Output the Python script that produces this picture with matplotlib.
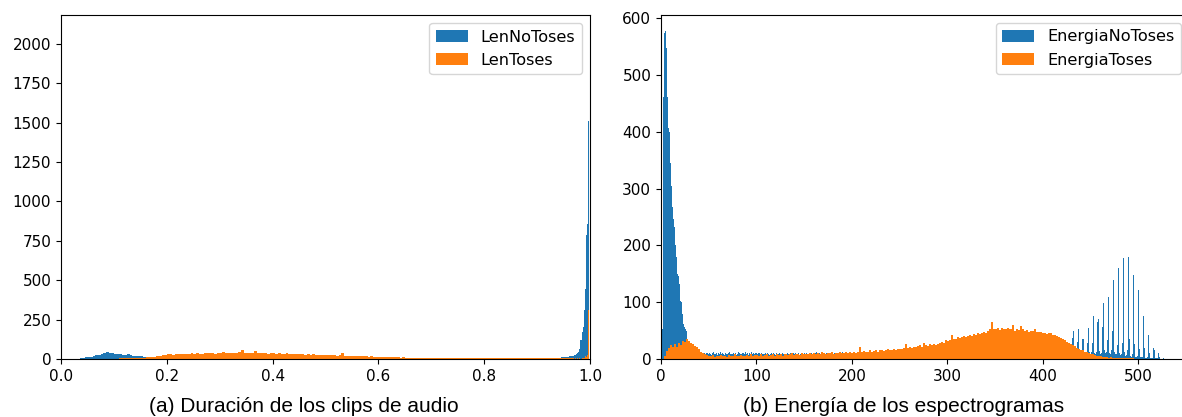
import numpy as np
import matplotlib
matplotlib.use("Agg")
import matplotlib.pyplot as plt

# ---------------------------------------------------------------------------
# (a) Clip length histogram: 0.005-wide bins on [0, 0.97], 0.002-wide bins
#     on [0.97, 0.998]
# ---------------------------------------------------------------------------
len_coarse_edges = np.linspace(0.0, 0.97, 195)
len_fine_edges = np.linspace(0.97, 0.998, 15)[1:]

len_notoses = [
    0, 0, 0, 0, 2, 3, 3, 5, 8, 10,
    13, 15, 20, 24, 27, 33, 38, 42, 36, 40,
    33, 30, 34, 28, 27, 30, 24, 22, 20, 18,
    20, 15, 14, 12, 10, 9, 8, 8, 7, 7,
    6, 7, 5, 6, 7, 6, 5, 7, 6, 6,
    5, 6, 7, 5, 6, 6, 5, 7, 6, 5,
    6, 5, 6, 7, 5, 6, 5, 6, 5, 6,
    5, 6, 5, 5, 6, 5, 6, 5, 5, 6,
    5, 5, 6, 4, 5, 6, 5, 5, 4, 5,
    5, 4, 5, 6, 5, 4, 5, 5, 4, 6,
    4, 5, 5, 4, 5, 4, 6, 5, 4, 5,
    5, 4, 5, 4, 4, 5, 4, 5, 4, 4,
    5, 4, 5, 5, 4, 5, 6, 4, 5, 4,
    5, 6, 4, 5, 4, 5, 6, 4, 5, 5,
    4, 5, 6, 5, 4, 5, 5, 4, 6, 5,
    5, 4, 5, 5, 6, 4, 5, 5, 4, 5,
    6, 5, 4, 5, 5, 6, 4, 5, 5, 6,
    5, 4, 6, 5, 5, 4, 6, 5, 5, 6,
    5, 6, 5, 6, 5, 6, 5, 6, 8, 10,
    12, 15, 18, 22,
    # fine bins
    25, 28, 30, 35, 42, 66, 118, 171, 203, 309, 447, 785, 860, 1511,
]

len_toses = [
    0, 0, 0, 0, 0, 0, 0, 0, 0, 0,
    0, 0, 0, 0, 1, 1, 2, 2, 2, 3,
    3, 3, 4, 4, 5, 5, 5, 6, 6, 7,
    8, 8, 10, 11, 13, 15, 18, 22, 26, 28,
    29, 31, 28, 33, 30, 32, 34, 31, 33, 35,
    32, 36, 34, 33, 37, 35, 38, 36, 34, 39,
    36, 46, 35, 38, 37, 40, 36, 44, 60, 35,
    41, 37, 38, 48, 38, 36, 40, 37, 34, 38,
    35, 33, 36, 34, 32, 35, 31, 33, 30, 32,
    29, 31, 28, 30, 27, 29, 26, 28, 25, 27,
    24, 26, 23, 25, 22, 24, 38, 22, 20, 21,
    19, 18, 20, 17, 16, 17, 15, 16, 14, 15,
    13, 14, 12, 13, 11, 12, 10, 11, 9, 10,
    9, 8, 9, 8, 7, 8, 7, 8, 6, 7,
    6, 7, 6, 5, 6, 5, 6, 5, 5, 6,
    5, 5, 6, 5, 5, 6, 5, 5, 6, 5,
    5, 6, 5, 5, 6, 5, 4, 5, 5, 4,
    5, 4, 5, 5, 4, 5, 4, 4, 5, 4,
    4, 5, 4, 4, 5, 4, 4, 5, 4, 5,
    4, 4, 5, 4,
    # fine bins
    3, 4, 3, 4, 3, 4, 3, 4, 5, 6, 17, 15, 23, 309,
]

# ---------------------------------------------------------------------------
# (b) Spectrogram energy histogram
# ---------------------------------------------------------------------------
energy_start = 1.0
energy_bin_notoses = 1.052   # 500 bins
energy_bin_toses = 2.104     # 250 bins

energia_notoses_peak = [
    53, 462, 574, 577, 548, 462, 406, 400, 345, 305, 268, 247, 232, 200, 180,
    150, 147, 132, 103, 100, 80, 62, 56, 52, 50,
    30, 26, 22, 20, 18, 16, 15, 14, 13, 12, 11, 10, 10, 9, 9, 9, 8, 10, 9, 11,
]
energia_notoses_low = [
    10, 8, 11, 9, 7, 10, 12, 8, 9, 11, 7, 10, 9, 12, 8, 10, 9, 7, 11, 9, 8, 10, 12, 9, 8,
    9, 11, 8, 10, 7, 9, 12, 10, 8, 9, 11, 10, 8, 12, 9, 10, 7, 11, 9, 13, 8, 10, 9, 11, 10,
    8, 10, 11, 9, 10, 8, 9, 8, 11, 9, 10, 8, 7, 9, 10, 8, 11, 9, 7, 10, 8, 9, 11, 8, 9,
    10, 8, 9, 7, 11, 9, 8, 10, 9, 7, 11, 8, 10, 9, 8, 11, 7, 9, 10, 8, 9, 11, 8, 10, 9,
    8, 10, 9, 11, 7, 9, 8, 10, 12, 9, 8, 10, 9, 11, 8, 9, 10, 8, 11, 9, 7, 10, 9, 8, 11,
    9, 10, 8, 9, 11, 7, 10, 9, 8, 12, 9, 10, 8, 11, 9, 7, 10, 9, 11, 8, 9, 10, 8, 9, 7,
]
energia_notoses_mid = [
    8, 7, 9, 6, 8, 9, 7, 8, 6, 9, 8, 7, 9, 8, 6, 7, 9, 8, 7, 8, 9, 6, 8, 7, 9,
    7, 8, 9, 6, 8, 7, 9, 8, 7, 6, 8, 9, 7, 8, 9, 7, 6, 8, 9, 7, 8, 6, 9, 8, 7,
    9, 8, 7, 9, 6, 8, 7, 8, 9, 7, 8, 6, 9, 7, 8, 9, 8, 7, 6, 9, 8, 7, 9, 8, 7,
    8, 9, 7, 8, 6, 9, 8, 7, 9, 8, 7, 8, 9, 6, 8, 7, 9, 8, 7, 9, 8, 6, 7, 9, 8,
    7, 9, 8, 7, 8, 9, 6, 8, 9, 7, 8, 7, 9, 8, 6, 9, 8, 7, 8, 9, 7, 8, 9, 6, 8,
    9, 7, 8, 9, 7, 8, 6, 9, 8, 7, 9, 8, 7, 8, 9, 7, 6, 8, 9, 8, 7, 9, 8, 7, 9,
    8, 7, 9, 8, 6, 9, 7, 8, 9, 8, 7, 9, 8, 7, 9, 8, 9, 7, 8, 6, 9, 8, 7, 9, 8,
    7, 9, 8, 6, 8, 9, 7, 8, 9, 8,
    9, 10, 8, 14, 22, 9, 10, 11, 15, 25, 10, 9, 12, 18, 27, 11, 10, 12, 20, 25,
    9, 11, 10, 21, 24, 10, 12,
]
energia_notoses_comb = [
    12,
    37, 49, 10, 8, 10,
    30, 52, 12, 9, 11,
    36, 36, 8, 10, 9,
    29, 55, 12, 7, 13,
    29, 75, 10, 8, 12,
    66, 71, 14, 9, 10,
    57, 99, 15, 11, 12,
    34, 110, 10, 9, 15,
    50, 140, 12, 8, 9,
    24, 161, 10, 7, 8,
    29, 177, 12, 6, 7,
    16, 180, 36, 5, 4,
    8, 148, 27, 4, 3,
    5, 121, 17, 3, 3,
    4, 75, 19, 2, 2,
    3, 43, 10, 2, 1,
    2, 20, 15, 1, 1,
    1, 11, 3, 0, 0,
    0, 1,
]
energia_notoses = (energia_notoses_peak + energia_notoses_low
                   + energia_notoses_mid + energia_notoses_comb)

energia_toses = [
    0, 5, 14, 20, 24, 21, 27, 22, 28, 25, 31, 30, 35, 31, 28, 27, 23, 21, 17, 13, 11, 8, 7,
    6, 5, 7, 4, 6, 5, 7, 5, 6, 4, 7, 6, 5, 8, 6, 5, 7, 6, 5, 7, 6, 8, 5, 7,
    7, 6, 8, 6, 7, 9, 6, 7, 8, 6, 9, 7, 8, 6, 9, 7, 8, 10, 7, 8, 9, 7, 10, 8,
    9, 8, 10, 9, 11, 8, 10, 9, 12, 10, 9, 11, 10, 12, 9, 11, 10, 13, 11, 10, 12, 11, 13, 10,
    12, 11, 13, 22, 12, 14, 13, 12, 15, 13, 14, 16, 13, 15,
    15, 14, 16, 17, 15, 16, 18, 16, 17,
    18, 17, 20, 27, 19, 21, 20, 22, 21, 23,
    24, 22, 29, 25, 23, 26, 25, 27, 24, 26,
    28, 30, 29, 33, 32,
    34, 42, 35, 36, 38, 37, 39, 40, 38,
    41, 43, 40, 44, 42, 45, 44,
    46, 48, 45, 50, 52, 66, 53,
    52, 54, 51, 55, 53, 52, 54,
    52, 59, 50, 53, 51, 58, 52, 50,
    51, 48, 50, 49, 52, 47, 48,
    47, 45, 46, 44, 46, 45, 43,
    42, 41, 39, 37, 36,
    33, 30, 28, 27, 25,
    23, 20, 18, 16, 15,
    13, 12, 10, 9, 8,
    7, 6, 5, 5, 4,
    3, 3, 2, 3, 2, 2,
    2, 1, 2, 1, 1, 2, 1, 1, 1, 0,
    0, 0, 0, 0, 0, 0, 0, 0, 0, 0, 0, 0, 0, 0,
]

len_labels = ["LenNoToses", "LenToses"]
energia_labels = ["EnergiaNoToses", "EnergiaToses"]
captions = ["(a) Duración de los clips de audio", "(b) Energía de los espectrogramas"]

blue, orange = "#1f77b4", "#ff7f0e"

len_edges = np.concatenate([len_coarse_edges, len_fine_edges])
assert len(len_notoses) == len(len_toses) == len(len_edges) - 1
assert len(energia_notoses) == 500 and len(energia_toses) == 250

# ---------------------------------------------------------------------------
W, H, DPI = 1182, 417, 100
fig = plt.figure(figsize=(W / DPI, H / DPI), dpi=DPI)
ax1 = fig.add_axes([61 / W, 58 / H, 529 / W, 344 / H])
ax2 = fig.add_axes([661 / W, 58 / H, 528 / W, 344 / H])

ax1.hist(len_edges[:-1], bins=len_edges, weights=len_notoses,
         color=blue, label=len_labels[0])
ax1.hist(len_edges[:-1], bins=len_edges, weights=len_toses,
         color=orange, label=len_labels[1])
ax1.set_xlim(0, 1.0)
ax1.set_ylim(0, 2184)

e_edges_nt = energy_start + energy_bin_notoses * np.arange(len(energia_notoses) + 1)
e_edges_t = energy_start + energy_bin_toses * np.arange(len(energia_toses) + 1)
ax2.hist(e_edges_nt[:-1], bins=e_edges_nt, weights=energia_notoses,
         color=blue, label=energia_labels[0])
ax2.hist(e_edges_t[:-1], bins=e_edges_t, weights=energia_toses,
         color=orange, label=energia_labels[1])
ax2.set_xlim(0, 553)

for ax in (ax1, ax2):
    ax.tick_params(labelsize=11)
    ax.legend(loc="upper right", fontsize=11.6)

for x, text in zip([304, 904], captions):
    fig.text(x / W, 5 / H, text, ha="center", va="baseline",
             family="Liberation Sans", fontsize=15)

fig.savefig("out.png", dpi=DPI)
